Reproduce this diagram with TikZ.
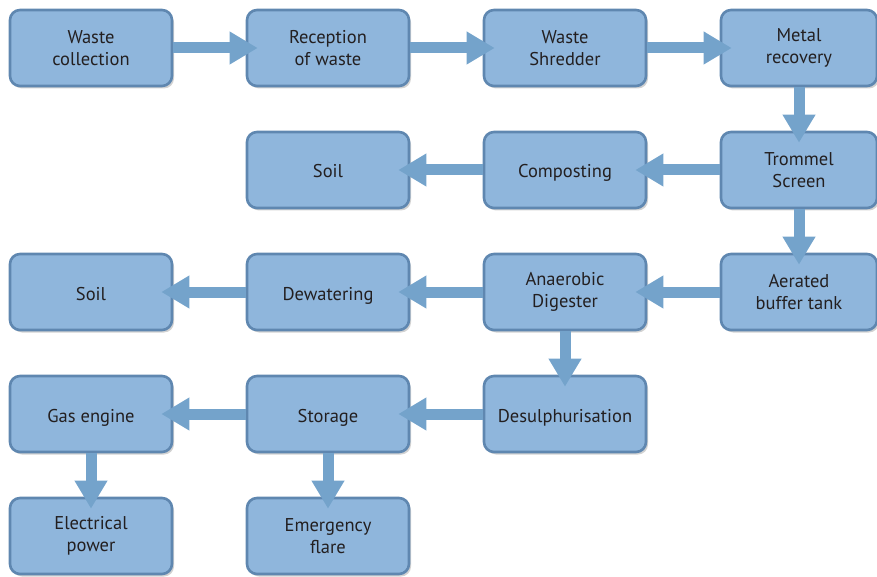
\documentclass[tikz,border=0pt]{standalone}
\usepackage{fontspec}
\setmainfont{PT Sans}
\usetikzlibrary{arrows.meta,shadows}
\definecolor{boxfill}{HTML}{8FB6DC}
\definecolor{boxline}{HTML}{5F87B0}
\definecolor{arrcol}{HTML}{74A3CB}
\definecolor{txt}{HTML}{231F20}
\tikzset{
  box/.style={draw=boxline, line width=2.6pt, fill=boxfill, rounded corners=10pt,
    minimum width=162pt, minimum height=76pt, align=center, text=txt,
    font=\fontsize{18.5}{22}\selectfont, inner sep=0pt,
    execute at begin node={\rule{0pt}{21pt}},
    drop shadow={shadow xshift=2pt, shadow yshift=-2.5pt, opacity=0.25, fill=black!70}},
  onebox/.style={box, execute at begin node={\rule[-5pt]{0pt}{18pt}}},
  rbox/.style={box, minimum width=156pt},
  flow/.style={draw=arrcol, line width=11pt,
    -{Triangle[length=28pt,width=31pt]}, shorten >=-12pt},
}
\begin{document}
\begin{tikzpicture}[x=1pt,y=-1pt]
\useasboundingbox (0,0) rectangle (877,577);
% row 1
\node[box] (wc) at (91,48) {Waste\\collection};
\node[box] (rw) at (328,48) {Reception\\of waste};
\node[box] (ws) at (565,48) {Waste\\Shredder};
\node[rbox] (mr) at (799,48) {Metal\\recovery};
% row 2
\node[onebox] (s1) at (328,170) {Soil};
\node[onebox] (cp) at (565,170) {Composting};
\node[rbox] (ts) at (799,170) {Trommel\\Screen};
% row 3
\node[onebox] (s2) at (91,292) {Soil};
\node[onebox] (dw) at (328,292) {Dewatering};
\node[box] (ad) at (565,292) {Anaerobic\\Digester};
\node[rbox] (ab) at (799,292) {Aerated\\buffer tank};
% row 4
\node[onebox] (ge) at (91,414) {Gas engine};
\node[onebox] (st) at (328,414) {Storage};
\node[onebox] (ds) at (565,414) {Desulphurisation};
% row 5
\node[box] (ep) at (91,536) {Electrical\\power};
\node[box] (ef) at (328,536) {Emergency\\flare};
% arrows
\draw[flow] (wc.east) -- (rw.west);
\draw[flow] (rw.east) -- (ws.west);
\draw[flow] (ws.east) -- (mr.west);
\draw[flow] (mr.south) -- (ts.north);
\draw[flow] (ts.west) -- (cp.east);
\draw[flow] (cp.west) -- (s1.east);
\draw[flow] (ts.south) -- (ab.north);
\draw[flow] (ab.west) -- (ad.east);
\draw[flow] (ad.west) -- (dw.east);
\draw[flow] (dw.west) -- (s2.east);
\draw[flow] (ad.south) -- (ds.north);
\draw[flow] (ds.west) -- (st.east);
\draw[flow] (st.west) -- (ge.east);
\draw[flow] (ge.south) -- (ep.north);
\draw[flow] (st.south) -- (ef.north);
\end{tikzpicture}
\end{document}
